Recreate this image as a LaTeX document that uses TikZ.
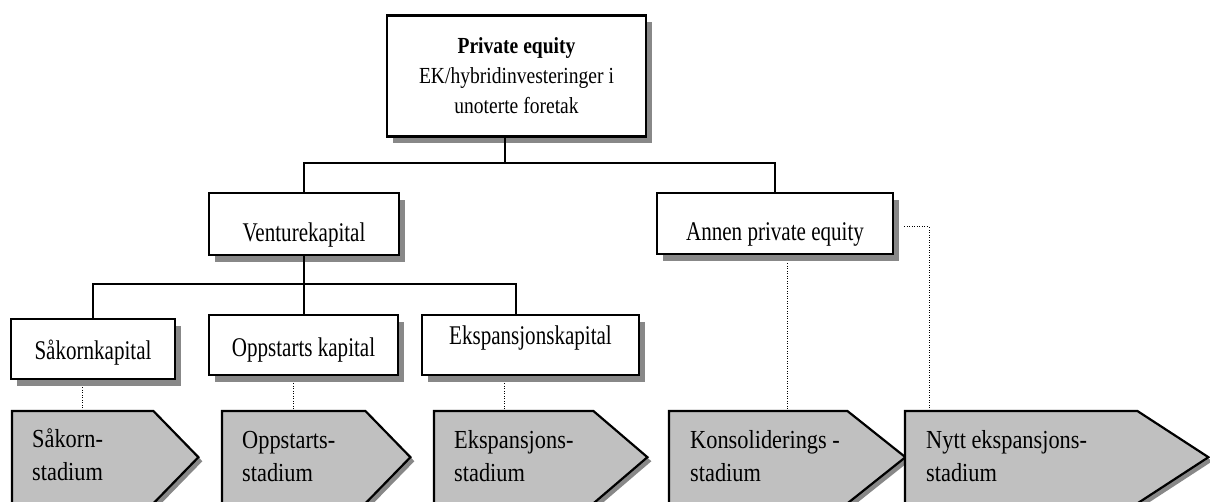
\documentclass[tikz,border=0pt]{standalone}
\usepackage{fontspec}
\setmainfont{Liberation Serif}
\newfontfamily\boxfont[FakeStretch=0.78]{Liberation Serif}
\newfontfamily\topfont[FakeStretch=0.85]{Liberation Serif}
\newfontfamily\stagefont[FakeStretch=0.86]{Liberation Serif}
\usetikzlibrary{calc,shadows}
\definecolor{shadowgray}{RGB}{136,136,136}
\definecolor{stagegray}{RGB}{192,192,192}
% #1 = arrow body node, #2 = depth of the point
\newcommand\stageshape[2]{%
  \fill[shadowgray] ([shift={(4,4)}]#1.north west) -- ([shift={(4,4)}]#1.north east)
     -- ($(#1.east)+(#2+4,4)$) -- ([shift={(4,4)}]#1.south east)
     -- ([shift={(4,4)}]#1.south west) -- cycle;
  \draw[stageline] (#1.north west) -- (#1.north east) -- ($(#1.east)+(#2,0)$)
     -- (#1.south east) -- (#1.south west) -- cycle;
}
% text lowered by #1 below the box centre, with no height of its own
\newcommand\lowtext[2]{\raisebox{-#1}[0pt][0pt]{#2}}
\begin{document}
\begin{tikzpicture}[x=1pt,y=-1pt,
  box/.style={draw, line width=2.7pt, fill=white, inner sep=0pt,
    drop shadow={shadow xshift=6pt, shadow yshift=-7pt, fill=shadowgray, opacity=1},
    font=\boxfont\fontsize{27}{30}\selectfont},
  topbox/.style={box, align=center, font=\topfont\fontsize{23}{30}\selectfont},
  conn/.style={line width=2pt},
  dotline/.style={line width=1pt, dash pattern=on 1pt off 1.5pt},
  stagebody/.style={anchor=north west, minimum height=92pt, inner sep=0pt},
  stageline/.style={line width=2.2pt, fill=stagegray, line join=miter},
  stagetext/.style={anchor=west, align=left, inner sep=0pt,
    font=\stagefont\fontsize{26}{33}\selectfont}]
\useasboundingbox[fill=white] (0,0) rectangle (1210,502);

% boxes
\node[topbox, minimum width=259pt, minimum height=121pt] (top) at (516.5,76)
  {\textbf{Private equity}\\EK/hybridinvesteringer i\\unoterte foretak};
\node[box, minimum width=190pt, minimum height=62pt] (vk) at (304,224)
  {\lowtext{18pt}{Venturekapital}};
\node[box, minimum width=236pt, minimum height=61pt] (ape) at (775,223.5)
  {\lowtext{17.5pt}{Annen private equity}};
\node[box, minimum width=164pt, minimum height=60pt] (sk) at (93,349)
  {\lowtext{11pt}{Såkornkapital}};
\node[box, minimum width=189pt, minimum height=60pt] (ok) at (303.5,345)
  {\lowtext{12pt}{Oppstarts kapital}};
\node[box, minimum width=217pt, minimum height=60pt] (ek) at (530.5,345)
  {\lowtext{0pt}{Ekspansjonskapital}};

% solid connectors
\coordinate (j1) at (505,163);
\coordinate (j2) at (304,284);
\draw[conn] (top.south -| j1) -- (j1);
\draw[conn] (vk.north) |- (j1) -| (ape.north);
\draw[conn] (vk.south) -- (j2);
\draw[conn] (sk.north) |- (j2) -| (ok.north);
\draw[conn] (j2) -| ($(ek.north)+(-14.5,0)$);

% stage arrows
\node[stagebody, minimum width=141pt] (a1) at (12,411) {};
\node[stagebody, minimum width=143pt] (a2) at (222,411) {};
\node[stagebody, minimum width=159pt] (a3) at (434,411) {};
\node[stagebody, minimum width=178pt] (a4) at (669,411) {};
\node[stagebody, minimum width=232pt] (a5) at (905,411) {};
\stageshape{a1}{45}
\stageshape{a2}{45}
\stageshape{a3}{54}
\stageshape{a4}{58}
\stageshape{a5}{71}
\node[stagetext] (t1) at ($(a1.west)+(20,-2)$) {Såkorn-\\stadium};
\node[stagetext] (t2) at ($(a2.west)+(20,-1)$) {Oppstarts-\\stadium};
\node[stagetext] (t3) at ($(a3.west)+(20,-1)$) {Ekspansjons-\\stadium};
\node[stagetext] (t4) at ($(a4.west)+(21,-1)$) {Konsoliderings -\\stadium};
\node[stagetext] (t5) at ($(a5.west)+(21,-1)$) {Nytt ekspansjons-\\stadium};

% dotted connectors
\draw[dotline] ($(sk.south)+(-11,7)$) -- (a1.north -| {$(sk.south)+(-11,0)$});
\draw[dotline] ($(ok.south)+(-10.5,7)$) -- (a2.north -| {$(ok.south)+(-10.5,0)$});
\draw[dotline] ($(ek.south)+(-26.5,7)$) -- (a3.north -| {$(ek.south)+(-26.5,0)$});
\draw[dotline] ($(ape.south)+(12,8)$) -- (a4.north -| {$(ape.south)+(12,0)$});
\draw[dotline] ($(ape.east)+(10,3.5)$) -| ($(a5.north west)+(24,0)$);
\end{tikzpicture}
\end{document}
